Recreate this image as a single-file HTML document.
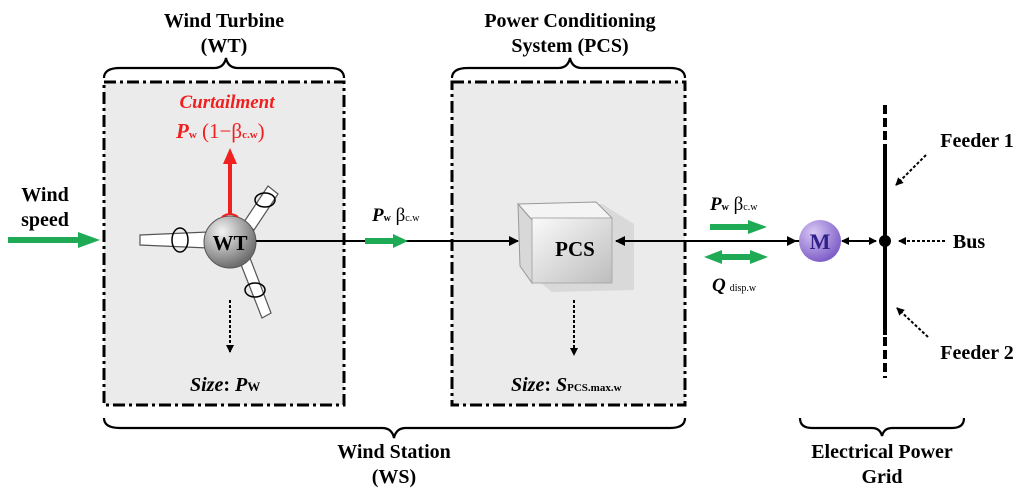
<!DOCTYPE html>
<html><head><meta charset="utf-8"><style>
body{margin:0;background:#fff;}
svg{display:block;font-family:"Liberation Serif",serif;font-weight:bold;}
</style></head><body>
<svg width="1024" height="500" viewBox="0 0 1024 500" xmlns="http://www.w3.org/2000/svg">
<defs>
<marker id="ah" markerWidth="10" markerHeight="10" refX="9" refY="5" orient="auto" markerUnits="userSpaceOnUse"><path d="M0,0 L10,5 L0,10 z" fill="#000"/></marker>
<marker id="ahs" markerWidth="8" markerHeight="8" refX="7" refY="4" orient="auto" markerUnits="userSpaceOnUse"><path d="M0,0 L8,4 L0,8 z" fill="#000"/></marker>
<radialGradient id="gs" cx="35%" cy="30%" r="70%"><stop offset="0" stop-color="#f4f4f4"/><stop offset="1" stop-color="#6e6e6e"/></radialGradient>
<radialGradient id="gm" cx="35%" cy="30%" r="70%"><stop offset="0" stop-color="#d8c8f4"/><stop offset="1" stop-color="#8060c8"/></radialGradient>
<linearGradient id="gc" x1="0" y1="0" x2="1" y2="1"><stop offset="0" stop-color="#fafafa"/><stop offset="1" stop-color="#bdbdbd"/></linearGradient>
</defs>
<rect x="104" y="82" width="240" height="323" fill="#ebebeb" stroke="#000" stroke-width="3" stroke-dasharray="12,4,3,4"/>
<rect x="452" y="82" width="233" height="323" fill="#ebebeb" stroke="#000" stroke-width="3" stroke-dasharray="12,4,3,4"/>
<g fill="none" stroke="#000" stroke-width="2.2">
<path d="M104,78 Q104,68 120,68 L214,68 Q224,68 226,58 Q228,68 238,68 L330,68 Q344,68 344,78"/>
<path d="M452,78 Q452,68 468,68 L558,68 Q568,68 570,58 Q572,68 582,68 L670,68 Q685,68 685,78"/>
<path d="M104,418 Q104,428 120,428 L382,428 Q392,428 394,438 Q396,428 406,428 L670,428 Q685,428 685,418"/>
<path d="M800,418 Q800,428 812,428 L872,428 Q880,428 882,436 Q884,428 892,428 L952,428 Q964,428 964,418"/>
</g>
<g font-size="20" text-anchor="middle">
<text x="224" y="27">Wind Turbine</text><text x="224" y="52">(WT)</text>
<text x="570" y="27">Power Conditioning</text><text x="570" y="52">System (PCS)</text>
<text x="45" y="201">Wind</text><text x="45" y="226">speed</text>
<text x="394" y="458">Wind Station</text><text x="394" y="483">(WS)</text>
<text x="882" y="458">Electrical Power</text><text x="882" y="483">Grid</text>
<text x="977" y="147">Feeder 1</text><text x="977" y="359">Feeder 2</text>
<text x="969" y="248">Bus</text>
</g>
<line x1="8" y1="240" x2="80" y2="240" stroke="#1faa55" stroke-width="6"/>
<path d="M78,232 L100,240 L78,248 z" fill="#1faa55"/>
<g stroke="#555" stroke-width="1.2" fill="#fff">
<path d="M140,235 L208,232 L208,248 L140,245 z"/>
<path d="M244,222 L268,186 L278,194 L254,230 z"/>
<path d="M240,262 L262,318 L271,313 L250,258 z"/>
</g>
<g fill="none" stroke="#000" stroke-width="1.5">
<ellipse cx="180" cy="240" rx="8" ry="12"/>
<ellipse cx="265" cy="200" rx="10" ry="7"/>
<ellipse cx="255" cy="290" rx="10" ry="7"/>
</g>
<circle cx="230" cy="242" r="26" fill="url(#gs)" stroke="#555"/>
<text x="230" y="250" font-size="21" text-anchor="middle">WT</text>
<line x1="230" y1="215" x2="230" y2="162" stroke="#f02020" stroke-width="4"/>
<path d="M223,164 L230,148 L237,164 z" fill="#f02020"/>
<path d="M222,217 Q230,211 238,217" fill="none" stroke="#f02020" stroke-width="2"/>
<text x="227" y="108" font-size="19" font-style="italic" fill="#f02020" text-anchor="middle">Curtailment</text>
<text x="176" y="138" fill="#f02020" font-size="21"><tspan font-style="italic">P</tspan><tspan font-size="11">w</tspan><tspan font-weight="normal"> (1−β</tspan><tspan font-size="11">c.w</tspan><tspan font-weight="normal">)</tspan></text>
<line x1="256" y1="241" x2="518" y2="241" stroke="#000" stroke-width="2" marker-end="url(#ah)"/>
<line x1="365" y1="241" x2="395" y2="241" stroke="#1faa55" stroke-width="6"/>
<path d="M393,234 L408,241 L393,248 z" fill="#1faa55"/>
<text x="372" y="221" font-size="19"><tspan font-style="italic">P</tspan><tspan font-size="10">w</tspan><tspan font-weight="normal"> β</tspan><tspan font-size="10" font-weight="normal">c.w</tspan></text>
<path d="M522,206 L602,204 L634,224 L634,290 L552,292 L522,268 z" fill="#c8c8c8" opacity="0.5"/>
<path d="M518,204 L596,202 L612,218 L532,220 z" fill="#f4f4f4" stroke="#999"/>
<path d="M518,204 L532,220 L532,283 L520,266 z" fill="#d8d8d8" stroke="#999"/>
<rect x="532" y="218" width="80" height="65" fill="url(#gc)" stroke="#aaa"/>
<text x="575" y="256" font-size="21" text-anchor="middle">PCS</text>
<line x1="800" y1="241" x2="616" y2="241" stroke="#000" stroke-width="2" marker-end="url(#ah)"/>
<line x1="700" y1="241" x2="796" y2="241" stroke="#000" stroke-width="2" marker-end="url(#ah)"/>
<line x1="710" y1="227" x2="750" y2="227" stroke="#1faa55" stroke-width="6"/>
<path d="M748,220 L767,227 L748,234 z" fill="#1faa55"/>
<line x1="720" y1="257" x2="752" y2="257" stroke="#1faa55" stroke-width="6"/>
<path d="M722,250 L704,257 L722,264 z" fill="#1faa55"/>
<path d="M750,250 L768,257 L750,264 z" fill="#1faa55"/>
<text x="710" y="210" font-size="19"><tspan font-style="italic">P</tspan><tspan font-size="10">w</tspan><tspan font-weight="normal"> β</tspan><tspan font-size="10" font-weight="normal">c.w</tspan></text>
<text x="712" y="291" font-size="19"><tspan font-style="italic">Q</tspan><tspan font-size="10" font-weight="normal" dx="4">disp.w</tspan></text>
<circle cx="820" cy="241" r="21" fill="url(#gm)"/>
<text x="820" y="249" font-size="22" text-anchor="middle" fill="#30208a">M</text>
<line x1="852" y1="241" x2="842" y2="241" stroke="#000" stroke-width="2" marker-end="url(#ahs)"/>
<line x1="846" y1="241" x2="876" y2="241" stroke="#000" stroke-width="2" marker-end="url(#ahs)"/>
<line x1="885" y1="150" x2="885" y2="335" stroke="#000" stroke-width="4"/>
<line x1="885" y1="105" x2="885" y2="150" stroke="#000" stroke-width="4" stroke-dasharray="9,4"/>
<line x1="885" y1="337" x2="885" y2="378" stroke="#000" stroke-width="4" stroke-dasharray="9,4"/>
<circle cx="885" cy="241" r="6" fill="#000"/>
<g stroke="#000" stroke-width="2" stroke-dasharray="3,2" fill="none">
<line x1="926" y1="155" x2="896" y2="185" marker-end="url(#ahs)"/>
<line x1="928" y1="337" x2="897" y2="308" marker-end="url(#ahs)"/>
<line x1="945" y1="241" x2="899" y2="241" marker-end="url(#ahs)"/>
<line x1="230" y1="300" x2="230" y2="352" marker-end="url(#ahs)"/>
<line x1="574" y1="300" x2="574" y2="355" marker-end="url(#ahs)"/>
</g>
<text x="190" y="391" font-size="20"><tspan font-style="italic">Size</tspan>: <tspan font-style="italic">P</tspan><tspan font-size="13">W</tspan></text>
<text x="511" y="391" font-size="20"><tspan font-style="italic">Size</tspan>: <tspan font-style="italic">S</tspan><tspan font-size="11">PCS.max.w</tspan></text>
</svg>
</body></html>
